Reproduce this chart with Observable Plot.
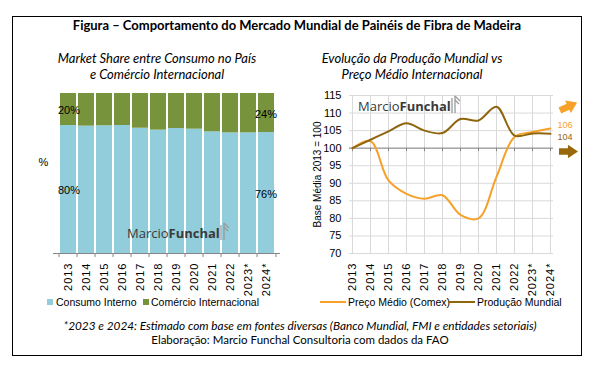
<!DOCTYPE html>
<html><head><meta charset="utf-8">
<script src="https://cdn.jsdelivr.net/npm/d3@7"></script>
<script src="https://cdn.jsdelivr.net/npm/@observablehq/plot@0.6"></script>
<style>
body{margin:0;background:#fff;}
#root{position:relative;width:594px;height:367px;overflow:hidden;background:#fff;font-family:Lato,sans-serif;color:#000;}
.abs{position:absolute;white-space:nowrap;}
.ctr{transform:translateX(-50%);text-align:center;}
#frame{position:absolute;left:12px;top:16px;width:568px;height:338px;border:1px solid #000;}
#title{top:17px;left:297px;font-weight:bold;font-size:13px;line-height:16px;}
.sub{top:50px;font-style:italic;font-size:13px;line-height:16px;}
.foot{left:300px;}
.leg{font-family:'Liberation Sans',Arial,sans-serif;font-size:10.5px;line-height:12px;top:296px;}
.sw{position:absolute;top:299px;width:6px;height:6px;}
.ln{position:absolute;top:301px;height:2px;}
.logo{font-family:'Open Sans',sans-serif;font-size:13px;line-height:16px;color:#3a3a3a;}
.logo b{font-weight:700;}
svg text{font-family:'Liberation Sans',Arial,sans-serif;}
g[aria-label="x-axis tick label"] text{letter-spacing:1px;}
g[aria-label="y-axis label"] text{font-size:10px;}
</style>
</head><body>
<div id="root">
  <div id="frame"></div>
  <div id="title" class="abs ctr">Figura – Comportamento do Mercado Mundial de Painéis de Fibra de Madeira</div>
  <div class="abs ctr sub" style="left:157px;">Market Share entre Consumo no País<br>e Comércio Internacional</div>
  <div class="abs ctr sub" style="left:412px;">Evolução da Produção Mundial vs<br>Preço Médio Internacional</div>
  <div id="leftChart" class="abs" style="left:20px;top:85px;"></div>
  <div id="rightChart" class="abs" style="left:295px;top:85px;"></div>
  <div class="abs logo" style="left:127px;top:225px;">Marcio<b>Funchal</b></div>
  <svg class="abs" style="left:219px;top:222px;" width="12" height="19"><g stroke="#9a9a9a" stroke-width="1.3" fill="none"><line x1="2" y1="18" x2="2" y2="3"/><line x1="5" y1="18" x2="5" y2="1"/><polyline points="5,1 10,6"/><polyline points="5,5 9,9"/></g></svg>
  <div class="abs logo" style="left:358px;top:98px;">Marcio<b>Funchal</b></div>
  <svg class="abs" style="left:450px;top:95px;" width="12" height="19"><g stroke="#9a9a9a" stroke-width="1.3" fill="none"><line x1="2" y1="18" x2="2" y2="3"/><line x1="5" y1="18" x2="5" y2="1"/><polyline points="5,1 10,6"/><polyline points="5,5 9,9"/></g></svg>
  <div class="sw" style="left:47px;background:#92CDDC;"></div>
  <div class="abs leg" style="left:56px;">Consumo Interno</div>
  <div class="sw" style="left:143px;background:#77933C;"></div>
  <div class="abs leg" style="left:151px;">Comércio Internacional</div>
  <div class="ln" style="left:320px;width:26px;background:#F7A12A;"></div>
  <div class="abs leg" style="left:348px;">Preço Médio (Comex)</div>
  <div class="ln" style="left:448px;width:27px;background:#8F650D;"></div>
  <div class="abs leg" style="left:477px;">Produção Mundial</div>
  <div class="abs ctr foot" style="top:319px;font-style:italic;font-size:11.8px;line-height:14px;">*2023 e 2024: Estimado com base em fontes diversas (Banco Mundial, FMI e entidades setoriais)</div>
  <div class="abs ctr foot" style="top:333px;font-size:11.5px;line-height:14px;">Elaboração: Marcio Funchal Consultoria com dados da FAO</div>
</div>
<script>
// ---- data ----
const years = ["2013","2014","2015","2016","2017","2018","2019","2020","2021","2022","2023*","2024*"];
const shareSeries = ["Consumo Interno","Comércio Internacional"];
const consumoInterno = [0.80,0.796,0.798,0.80,0.783,0.771,0.781,0.777,0.76,0.754,0.754,0.756];
const comercioInternacional = [0.20,0.204,0.202,0.20,0.217,0.229,0.219,0.223,0.24,0.246,0.246,0.244];
const lineSeries = ["Preço Médio (Comex)","Produção Mundial"];
const precoMedio = [100,102,90.8,87,85.6,86.6,81,80,91.8,103.2,104.6,105.6];
const producaoMundial = [100,102.4,104.8,107.1,105,104.3,108.3,107.9,111.8,103.6,104.2,104.1];
const yTicks = [70,75,80,85,90,95,100,105,110,115];

const shareRows = years.flatMap((year,i)=>[
  {year, series: shareSeries[0], value: consumoInterno[i]},
  {year, series: shareSeries[1], value: comercioInternacional[i]}
]);
const lineRows = years.flatMap((year,i)=>[
  {year, series: lineSeries[0], value: precoMedio[i]},
  {year, series: lineSeries[1], value: producaoMundial[i]}
]);
const first = years[0], last = years[years.length-1];
const pct = d3.format(".0%");

// ---- left chart ----
const W1=275,H1=215,ML1=33,MR1=15,MT1=8,MB1=47;
const step1=(W1-ML1-MR1)/years.length;
const left = Plot.plot({
  width:W1,height:H1,marginLeft:ML1,marginRight:MR1,marginTop:MT1,marginBottom:MB1,
  style:{fontSize:"11px",background:"transparent",color:"#000"},
  x:{domain:years,paddingInner:0.12,paddingOuter:0.06,label:null},
  y:{domain:[0,1],axis:null},
  color:{domain:shareSeries,range:["#92CDDC","#77933C"]},
  marks:[
    Plot.barY(shareRows,{x:"year",y:"value",fill:"series"}),
    Plot.ruleY([0],{stroke:"#868686"}),
    Plot.ruleX(years,{x:d=>d,dx:-step1/2,y1:0,y2:-0.025,stroke:"#868686"}),
    Plot.ruleX([last],{x:d=>d,dx:step1/2,y1:0,y2:-0.025,stroke:"#868686"}),
    Plot.text(shareRows,Plot.stackY({filter:d=>d.year===first,x:"year",y:"value",z:"series",text:d=>pct(d.value),textAnchor:"start",dx:-10.5,dy:1,fontSize:11})),
    Plot.text(shareRows,Plot.stackY({filter:d=>d.year===last,x:"year",y:"value",z:"series",text:d=>pct(d.value),textAnchor:"end",dx:10.5,dy:1,fontSize:11})),
    Plot.text(["%"],{frameAnchor:"left",dx:-15,dy:-11,text:d=>d,fontSize:11}),
    Plot.axisX({tickRotate:-90,tickSize:0,tickPadding:9,label:null,fontSize:11})
  ]
});
document.getElementById("leftChart").appendChild(left);

// ---- right chart ----
function arrowSymbol(angleDeg){
  const a = angleDeg*Math.PI/180, c=Math.cos(a), s=Math.sin(a);
  const pts=[[-0.5,-0.17],[-0.03,-0.17],[-0.03,-0.36],[0.5,0],[-0.03,0.36],[-0.03,0.17],[-0.5,0.17]];
  return {draw(ctx,size){
    const L=19;
    pts.forEach(([x,y],i)=>{
      const X=(x*c-y*s)*L, Y=(x*s+y*c)*L;
      i?ctx.lineTo(X,Y):ctx.moveTo(X,Y);
    });
    ctx.closePath();
  }};
}
const right = Plot.plot({
  width:285,height:215,marginLeft:54,marginRight:27,marginTop:10,marginBottom:47,
  style:{fontSize:"11px",background:"transparent",color:"#000"},
  x:{type:"point",domain:years,padding:0,label:null},
  y:{domain:[70,115],label:null},
  color:{domain:lineSeries,range:["#F7A12A","#8F650D"]},
  marks:[
    Plot.gridY(yTicks,{stroke:"#D9D9D9",strokeOpacity:1}),
    Plot.gridX(years,{stroke:"#D9D9D9",strokeOpacity:1}),
    Plot.ruleY([100],{stroke:"#868686"}),
    Plot.ruleX(years,{x:d=>d,y1:100,y2:99,stroke:"#868686"}),
    Plot.line(lineRows,{x:"year",y:"value",z:"series",stroke:"series",strokeWidth:2,curve:"catmull-rom"}),
    Plot.text(lineRows,{filter:d=>d.year===last&&d.series===lineSeries[0],x:"year",y:"value",text:d=>d3.format(".0f")(d.value),fill:"series",textAnchor:"start",dx:7,dy:-3,fontSize:9}),
    Plot.text(lineRows,{filter:d=>d.year===last&&d.series===lineSeries[1],x:"year",y:"value",text:d=>d3.format(".0f")(d.value),fill:"series",textAnchor:"start",dx:7,dy:3,fontSize:9}),
    Plot.dot([0],{frameAnchor:"top-right",dx:15,dy:11,r:8.5,symbol:arrowSymbol(-25),fill:"#F7A12A",stroke:"none"}),
    Plot.dot([0],{frameAnchor:"top-right",dx:15,dy:56,r:8.5,symbol:arrowSymbol(0),fill:"#98680A",stroke:"none"}),
    Plot.axisY(yTicks,{tickSize:0,tickPadding:8,label:"Base Média 2013 = 100",labelAnchor:"center",labelArrow:"none",labelOffset:36,fontSize:11}),
    Plot.axisX({tickRotate:-90,tickSize:0,tickPadding:9,label:null,fontSize:11})
  ]
});
document.getElementById("rightChart").appendChild(right);
</script>
</body></html>
